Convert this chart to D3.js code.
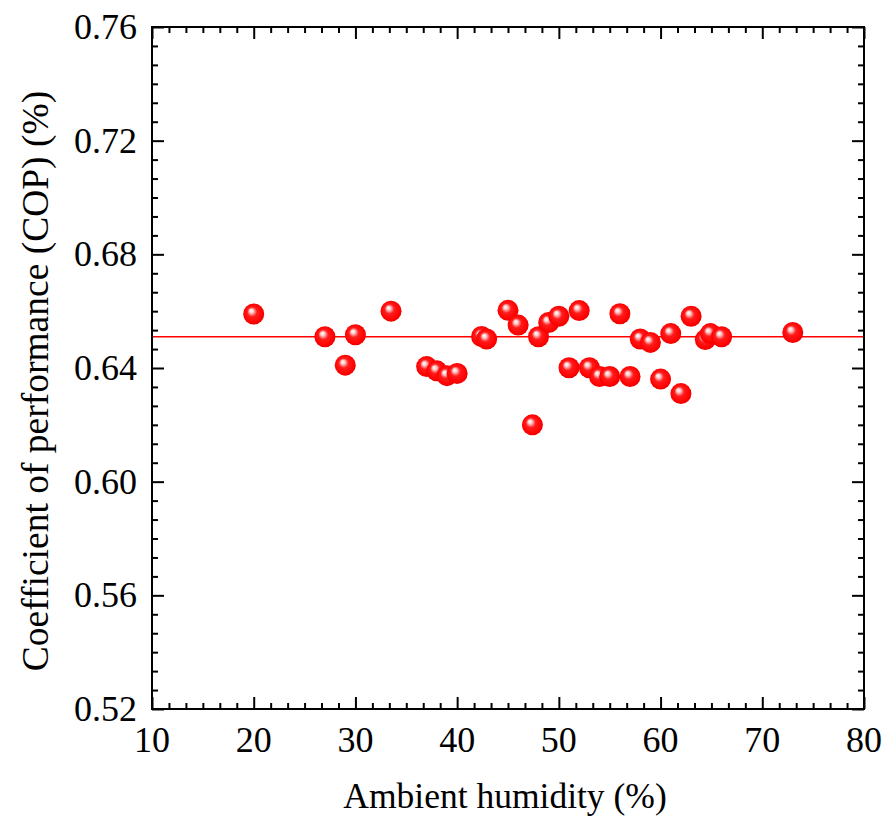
<!DOCTYPE html>
<html lang="en">
<head>
  <meta charset="UTF-8">
  <title>COP vs ambient humidity</title>
  <script src="https://d3js.org/d3.v7.min.js"></script>
  <style>
    body { margin: 0; background: #fff; }
    text { font-family: "Liberation Serif", "Tinos", "DejaVu Serif", serif; fill: #000; }
    .tick-label { font-size: 36px; }
  </style>
</head>
<body>
  <svg id="chart" width="888" height="823"></svg>

  <script>
    // data
    const humidity = [20, 27, 29, 30, 33.5, 37, 38, 39, 40, 42.4, 42.9, 45, 46, 47.4, 48, 49, 50,
                      51, 52, 53, 54, 55, 56, 57, 58, 59, 60, 61, 62, 63, 64.4, 64.9, 66, 73];
    const cop = [0.659, 0.651, 0.641, 0.6517, 0.660, 0.6405, 0.639, 0.6373, 0.6381, 0.6511, 0.6502,
                 0.6603, 0.6551, 0.620, 0.651, 0.656, 0.6582, 0.6401, 0.6602, 0.6401, 0.637, 0.637,
                 0.6591, 0.637, 0.6502, 0.649, 0.6361, 0.6521, 0.631, 0.6582, 0.650, 0.6521, 0.651, 0.6525];
    const meanCOP = 0.651;
    const xTicks = [10, 20, 30, 40, 50, 60, 70, 80];
    const yTicks = [0.52, 0.56, 0.60, 0.64, 0.68, 0.72, 0.76];

    const svg = d3.select("#chart");
    const margin = { top: 27, right: 24, bottom: 114, left: 152 };
    const W = 888, H = 823;
    const width = W - margin.left - margin.right;
    const height = H - margin.top - margin.bottom;

    const x = d3.scaleLinear().domain([10, 80]).range([0, width]);
    const y = d3.scaleLinear().domain([0.52, 0.76]).range([height, 0]);

    // sphere look
    const defs = svg.append("defs");
    const rg = defs.append("radialGradient")
      .attr("id", "ball")
      .attr("cx", "50%").attr("cy", "50%").attr("r", "55%")
      .attr("fx", "37%").attr("fy", "33%");
    rg.append("stop").attr("offset", "0%").attr("stop-color", "#ffffff");
    rg.append("stop").attr("offset", "16%").attr("stop-color", "#ffd2d2");
    rg.append("stop").attr("offset", "42%").attr("stop-color", "#ff1c1c");
    rg.append("stop").attr("offset", "82%").attr("stop-color", "#ff0000");
    rg.append("stop").attr("offset", "100%").attr("stop-color", "#dc0000");

    const g = svg.append("g")
      .attr("transform", `translate(${margin.left},${margin.top})`);

    // mean line
    g.append("line")
      .attr("x1", 0).attr("x2", width)
      .attr("y1", y(meanCOP)).attr("y2", y(meanCOP))
      .attr("stroke", "#ff0000").attr("stroke-width", 1.5);

    // points
    g.selectAll("circle.pt")
      .data(humidity.map((h, i) => ({ h, c: cop[i] })))
      .enter().append("circle")
        .attr("class", "pt")
        .attr("cx", d => x(d.h))
        .attr("cy", d => y(d.c))
        .attr("r", 10.5)
        .attr("fill", "url(#ball)");

    // ticks (inward) on all four sides
    const xMinor = d3.range(10, 80.001, 10 / 6).filter(v => Math.abs(v / 10 - Math.round(v / 10)) > 1e-6);
    const yMinor = d3.range(0.52, 0.76001, 0.04 / 6).filter(v => Math.abs(v / 0.04 - Math.round(v / 0.04)) > 1e-6);

    function tickAxis(axisFn, scale, major, minor, tr) {
      const a1 = g.append("g").attr("transform", tr)
        .call(axisFn(scale).tickValues(major).tickSize(-12).tickFormat(""));
      const a2 = g.append("g").attr("transform", tr)
        .call(axisFn(scale).tickValues(minor).tickSize(-6).tickFormat(""));
      [a1, a2].forEach(a => {
        a.select(".domain").remove();
        a.selectAll("line").attr("stroke", "#000").attr("stroke-width", 2);
      });
    }
    tickAxis(d3.axisBottom, x, xTicks, xMinor, `translate(0,${height})`);
    tickAxis(d3.axisTop, x, xTicks, xMinor, "translate(0,0)");
    tickAxis(d3.axisLeft, y, yTicks, yMinor, "translate(0,0)");
    tickAxis(d3.axisRight, y, yTicks, yMinor, `translate(${width},0)`);

    // frame
    g.append("rect")
      .attr("width", width).attr("height", height)
      .attr("fill", "none").attr("stroke", "#000").attr("stroke-width", 2);

    // tick labels
    g.selectAll("text.xl").data(xTicks).enter().append("text")
      .attr("class", "tick-label")
      .attr("x", d => x(d)).attr("y", height + 43)
      .attr("text-anchor", "middle")
      .text(d => d);

    g.selectAll("text.yl").data(yTicks).enter().append("text")
      .attr("class", "tick-label")
      .attr("x", -15).attr("y", d => y(d) + 12)
      .attr("text-anchor", "end")
      .text(d => d.toFixed(2));

    // axis titles
    svg.append("text")
      .style("font-size", "35.5px")
      .attr("x", 505).attr("y", 808)
      .attr("text-anchor", "middle")
      .text("Ambient humidity (%)");

    svg.append("text")
      .style("font-size", "37.5px")
      .attr("transform", "translate(48,381) rotate(-90)")
      .attr("text-anchor", "middle")
      .text("Coefficient of performance (COP) (%)");
  </script>
</body>
</html>
